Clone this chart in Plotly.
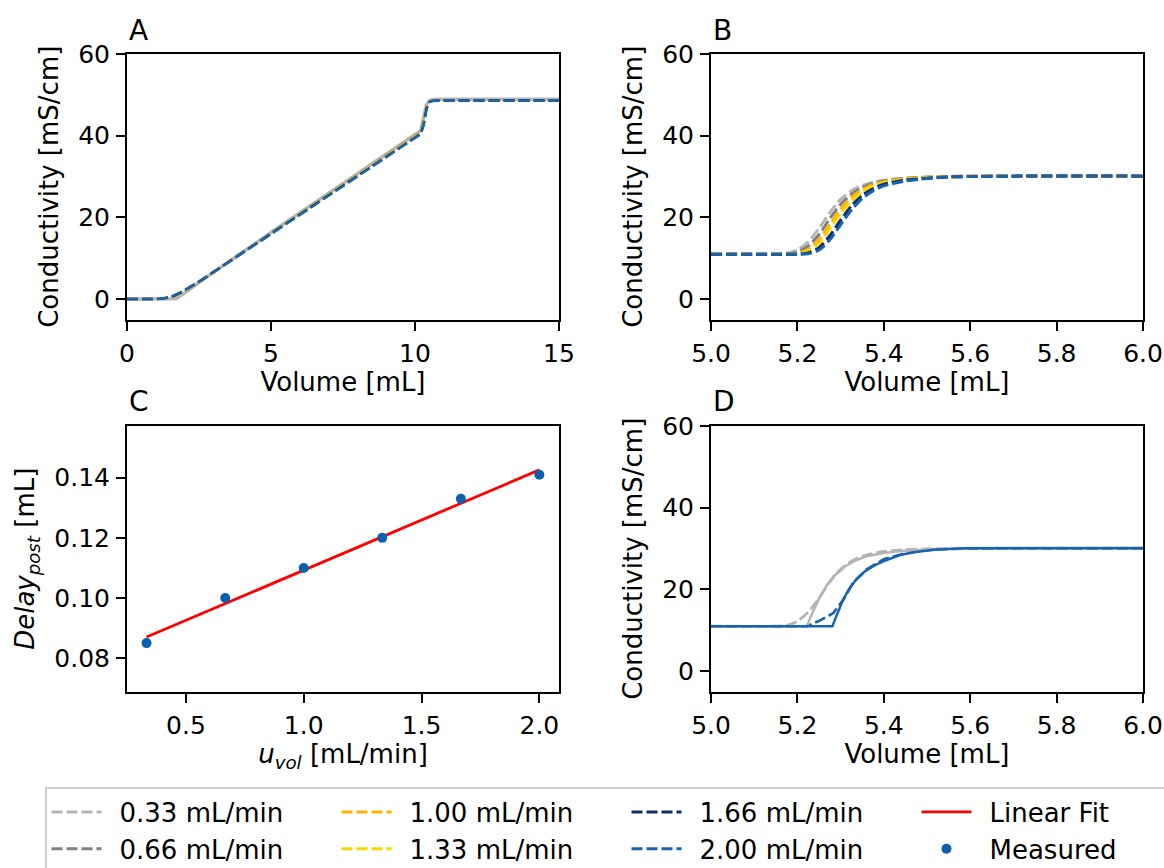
import plotly.graph_objects as go

W, H = 1164, 868

# ---------------- data ----------------
rates = ["0.33 mL/min", "0.66 mL/min", "1.00 mL/min", "1.33 mL/min", "1.66 mL/min", "2.00 mL/min"]
rate_colors = ["#b5b5b5", "#808080", "#ffb300", "#ffd500", "#0d2f6b", "#1763b2"]
legend_ranks = [1, 5, 2, 6, 3, 7]

# Panel A: full run
vol_A_model = [0.0, 1.5, 1.7, 1.9, 2.2, 2.6, 5.0, 7.5, 10.0, 10.2, 10.3, 10.4, 10.5, 10.6, 10.8, 15.0]
cond_A_model = [0.0, 0.0, 0.1, 1.0, 2.6, 4.6, 16.3, 28.3, 40.3, 41.2, 44.5, 47.6, 48.6, 48.8, 48.9, 48.9]
vol_A = [0.0, 1.0, 1.3, 1.6, 1.9, 2.2, 2.6, 5.0, 7.5, 10.0, 10.2, 10.3, 10.4, 10.5, 10.6, 10.8, 15.0]
cond_A_033 = [0.0, 0.0, 0.1, 0.5, 1.5, 2.8, 4.7, 16.3, 28.2, 40.1, 41.0, 44.0, 47.4, 48.4, 48.6, 48.7, 48.7]
cond_A_066 = [0.0, 0.0, 0.1, 0.6, 1.6, 2.8, 4.7, 16.2, 28.1, 40.0, 40.9, 43.7, 47.2, 48.3, 48.6, 48.7, 48.7]
cond_A_100 = [0.0, 0.0, 0.1, 0.6, 1.6, 2.9, 4.7, 16.1, 28.0, 39.9, 40.8, 43.4, 47.0, 48.3, 48.6, 48.6, 48.6]
cond_A_133 = [0.0, 0.0, 0.2, 0.7, 1.7, 2.9, 4.7, 16.0, 27.9, 39.8, 40.7, 43.1, 46.9, 48.2, 48.5, 48.6, 48.6]
cond_A_166 = [0.0, 0.0, 0.2, 0.7, 1.7, 3.0, 4.7, 16.0, 27.8, 39.6, 40.5, 42.8, 46.7, 48.2, 48.5, 48.6, 48.6]
cond_A_200 = [0.0, 0.0, 0.2, 0.8, 1.8, 3.0, 4.7, 15.9, 27.7, 39.5, 40.4, 42.5, 46.5, 48.2, 48.5, 48.6, 48.6]
cond_A = [cond_A_033, cond_A_066, cond_A_100, cond_A_133, cond_A_166, cond_A_200]

# Panel B: zoom on step
vol_B = [5.0, 5.15, 5.175, 5.2, 5.225, 5.25, 5.275, 5.3, 5.325, 5.35, 5.375, 5.4, 5.45, 5.5, 5.55, 5.6, 5.7, 6.0]
cond_B_033 = [11.0, 11.0, 11.2, 12.0, 14.0, 17.3, 21.2, 24.4, 26.5, 27.8, 28.6, 29.1, 29.6, 29.9, 30.0, 30.1, 30.1, 30.1]
cond_B_066 = [11.0, 11.0, 11.0, 11.5, 13.0, 15.8, 19.7, 23.2, 25.7, 27.3, 28.3, 28.9, 29.5, 29.8, 30.0, 30.1, 30.1, 30.1]
cond_B_100 = [11.0, 11.0, 11.0, 11.2, 12.2, 14.6, 18.3, 22.0, 24.9, 26.8, 28.0, 28.7, 29.4, 29.8, 30.0, 30.1, 30.1, 30.1]
cond_B_133 = [11.0, 11.0, 11.0, 11.1, 11.8, 13.7, 17.2, 21.0, 24.1, 26.3, 27.6, 28.5, 29.3, 29.7, 29.9, 30.0, 30.1, 30.1]
cond_B_166 = [11.0, 11.0, 11.0, 11.0, 11.3, 12.6, 15.5, 19.3, 22.8, 25.4, 27.0, 28.1, 29.1, 29.6, 29.9, 30.0, 30.1, 30.1]
cond_B_200 = [11.0, 11.0, 11.0, 11.0, 11.1, 12.0, 14.5, 18.2, 21.8, 24.6, 26.5, 27.7, 28.9, 29.5, 29.9, 30.0, 30.1, 30.1]
cond_B = [cond_B_033, cond_B_066, cond_B_100, cond_B_133, cond_B_166, cond_B_200]

# Panel C: delay vs flow rate
u_vol = [0.333, 0.667, 1.0, 1.333, 1.667, 2.0]
delay_post = [0.085, 0.100, 0.110, 0.120, 0.133, 0.141]
fit_u = [0.333, 2.0]
fit_delay = [0.0870, 0.1426]

# Panel D: measured vs model
vol_D_meas = [5.0, 5.15, 5.175, 5.2, 5.225, 5.25, 5.275, 5.3, 5.325, 5.35, 5.375, 5.4, 5.45, 5.5, 5.55, 5.6, 5.7, 6.0]
cond_D_meas_033 = [11.0, 11.0, 11.2, 12.2, 14.5, 17.8, 21.8, 24.9, 26.9, 28.1, 28.8, 29.3, 29.7, 29.9, 30.0, 30.1, 30.1, 30.1]
vol_D_meas200 = [5.0, 5.222, 5.25, 5.283, 5.307, 5.33, 5.36, 5.4, 5.45, 5.5, 5.55, 5.6, 5.7, 6.0]
cond_D_meas_200 = [11.0, 11.0, 12.3, 14.2, 17.6, 21.8, 24.9, 27.4, 28.9, 29.6, 29.9, 30.0, 30.1, 30.1]
vol_D_ref = [5.0, 5.222, 5.25, 5.283, 5.307, 5.33, 5.36, 5.4, 5.45, 5.5, 5.55, 5.6, 5.7, 6.0]
cond_D_ref = [11.0, 11.0, 12.2, 14.0, 17.3, 21.5, 24.7, 27.2, 28.8, 29.5, 29.9, 30.0, 30.0, 30.0]
vol_D_model_033 = [5.0, 5.222, 5.232, 5.242, 5.253, 5.27, 5.283, 5.31, 5.335, 5.36, 5.4, 5.44, 5.48, 5.52, 5.6, 6.0]
cond_D_model_033 = [11.0, 11.0, 13.6, 16.0, 18.4, 21.3, 23.1, 25.6, 27.1, 28.1, 28.9, 29.4, 29.7, 29.9, 30.1, 30.2]
vol_D_model_200 = [5.0, 5.281, 5.29, 5.305, 5.32, 5.336, 5.355, 5.375, 5.4, 5.438, 5.47, 5.515, 5.59, 6.0]
cond_D_model_200 = [11.0, 11.0, 13.4, 17.3, 20.2, 22.4, 24.3, 25.7, 26.9, 28.4, 29.1, 29.7, 30.1, 30.1]

# ---------------- figure ----------------
fig = go.Figure()
DASH = "11px,4px"
GAP = "\u2002"  # spacing between legend handle and its label

# Panel A
fig.add_trace(go.Scatter(x=vol_A_model, y=cond_A_model, mode="lines", xaxis="x", yaxis="y",
                         line=dict(color="#b5b5b5", width=3.5), showlegend=False, hoverinfo="skip"))
for name, col, ys in zip(rates, rate_colors, cond_A):
    fig.add_trace(go.Scatter(x=vol_A, y=ys, mode="lines", xaxis="x", yaxis="y", name=name,
                             line=dict(color=col, width=2.5, dash=DASH), showlegend=False))

# Panel B
for name, col, ys, rk in zip(rates, rate_colors, cond_B, legend_ranks):
    fig.add_trace(go.Scatter(x=vol_B, y=ys, mode="lines", xaxis="x2", yaxis="y2", name=GAP + name,
                             line=dict(color=col, width=3, dash=DASH, shape="spline", smoothing=0.8),
                             legendrank=rk, showlegend=True))

# Panel C
fig.add_trace(go.Scatter(x=fit_u, y=fit_delay, mode="lines", xaxis="x3", yaxis="y3", name=GAP + "Linear Fit",
                         line=dict(color="#ff0000", width=2.8), legendrank=4, legendwidth=185))
fig.add_trace(go.Scatter(x=u_vol, y=delay_post, mode="markers", xaxis="x3", yaxis="y3", name=GAP + "Measured",
                         marker=dict(color="#0a5fb0", size=10), legendrank=8, legendwidth=185))

# Panel D
fig.add_trace(go.Scatter(x=vol_D_ref, y=cond_D_ref, mode="lines", xaxis="x4", yaxis="y4",
                         line=dict(color="#7fb3e3", width=1.6, dash=DASH), showlegend=False))
fig.add_trace(go.Scatter(x=vol_D_meas, y=cond_D_meas_033, mode="lines", xaxis="x4", yaxis="y4",
                         line=dict(color="#b5b5b5", width=2.8, dash=DASH, shape="spline", smoothing=0.8),
                         showlegend=False))
fig.add_trace(go.Scatter(x=vol_D_meas200, y=cond_D_meas_200, mode="lines", xaxis="x4", yaxis="y4",
                         line=dict(color="#1763b2", width=2.5, dash=DASH), showlegend=False))
fig.add_trace(go.Scatter(x=vol_D_model_033, y=cond_D_model_033, mode="lines", xaxis="x4", yaxis="y4",
                         line=dict(color="#b5b5b5", width=2.5), showlegend=False))
fig.add_trace(go.Scatter(x=vol_D_model_200, y=cond_D_model_200, mode="lines", xaxis="x4", yaxis="y4",
                         line=dict(color="#1763b2", width=2.5), showlegend=False))

FONT = "DejaVu Sans"
TICKF = dict(family=FONT, size=25, color="black")
TITLEF = dict(family=FONT, size=26, color="black")

def ax(domain, anchor, rng, tickvals, fmt, title, standoff):
    return dict(domain=domain, anchor=anchor, range=rng, tickvals=tickvals, tickformat=fmt,
                showline=True, mirror=True, linecolor="black", linewidth=2,
                ticks="outside", ticklen=9, tickwidth=2, tickcolor="black",
                showgrid=False, zeroline=False, tickfont=TICKF, ticklabelstandoff=1,
                title=dict(text=title, font=TITLEF, standoff=standoff))

xl = [127 / W, 559 / W]
xr = [711 / W, 1143 / W]
yt = [1 - 319.5 / H, 1 - 54 / H]
yb = [1 - 691.5 / H, 1 - 426 / H]

cond_title = "Conductivity [mS/cm]"
vol_title = "Volume [mL]"

fig.update_layout(
    width=W, height=H,
    margin=dict(l=0, r=0, t=0, b=0, autoexpand=False),
    paper_bgcolor="white", plot_bgcolor="white",
    font=dict(family=FONT, color="black"),
    xaxis=ax(xl, "y", [0, 15], [0, 5, 10, 15], "d", vol_title, 6),
    yaxis=ax(yt, "x", [-5, 60], [0, 20, 40, 60], "d", cond_title, 12),
    xaxis2=ax(xr, "y2", [5.0, 6.0], [5.0, 5.2, 5.4, 5.6, 5.8, 6.0], ".1f", vol_title, 6),
    yaxis2=ax(yt, "x2", [-5, 60], [0, 20, 40, 60], "d", cond_title, 12),
    xaxis3=ax(xl, "y3", [0.25, 2.0833], [0.5, 1.0, 1.5, 2.0], ".1f",
              "<i>u</i><sub><i>vol</i></sub> [mL/min]", 6),
    yaxis3=ax(yb, "x3", [0.0689, 0.1572], [0.08, 0.10, 0.12, 0.14], ".2f",
              "<i>Delay</i><sub><i>post</i></sub> [mL]", 12),
    xaxis4=ax(xr, "y4", [5.0, 6.0], [5.0, 5.2, 5.4, 5.6, 5.8, 6.0], ".1f", vol_title, 6),
    yaxis4=ax(yb, "x4", [-5, 60], [0, 20, 40, 60], "d", cond_title, 12),
    legend=dict(orientation="h", x=45 / W, xanchor="left", y=1 - 787 / H, yanchor="top",
                bordercolor="#cccccc", borderwidth=1.5, bgcolor="white",
                font=dict(family=FONT, size=26, color="black"),
                itemwidth=50, entrywidth=225, entrywidthmode="pixels", tracegroupgap=0),
)

for letter, xp, yp in [("A", 127, 30), ("B", 711, 30), ("C", 127, 402), ("D", 711, 402)]:
    fig.add_annotation(text=letter, x=xp / W, y=1 - yp / H, xref="paper", yref="paper",
                       xanchor="left", yanchor="middle", showarrow=False,
                       font=dict(family=FONT, size=28, color="black"))

fig.write_html("out.html", config={"displayModeBar": False},
               post_script="document.body.style.margin='0';")
